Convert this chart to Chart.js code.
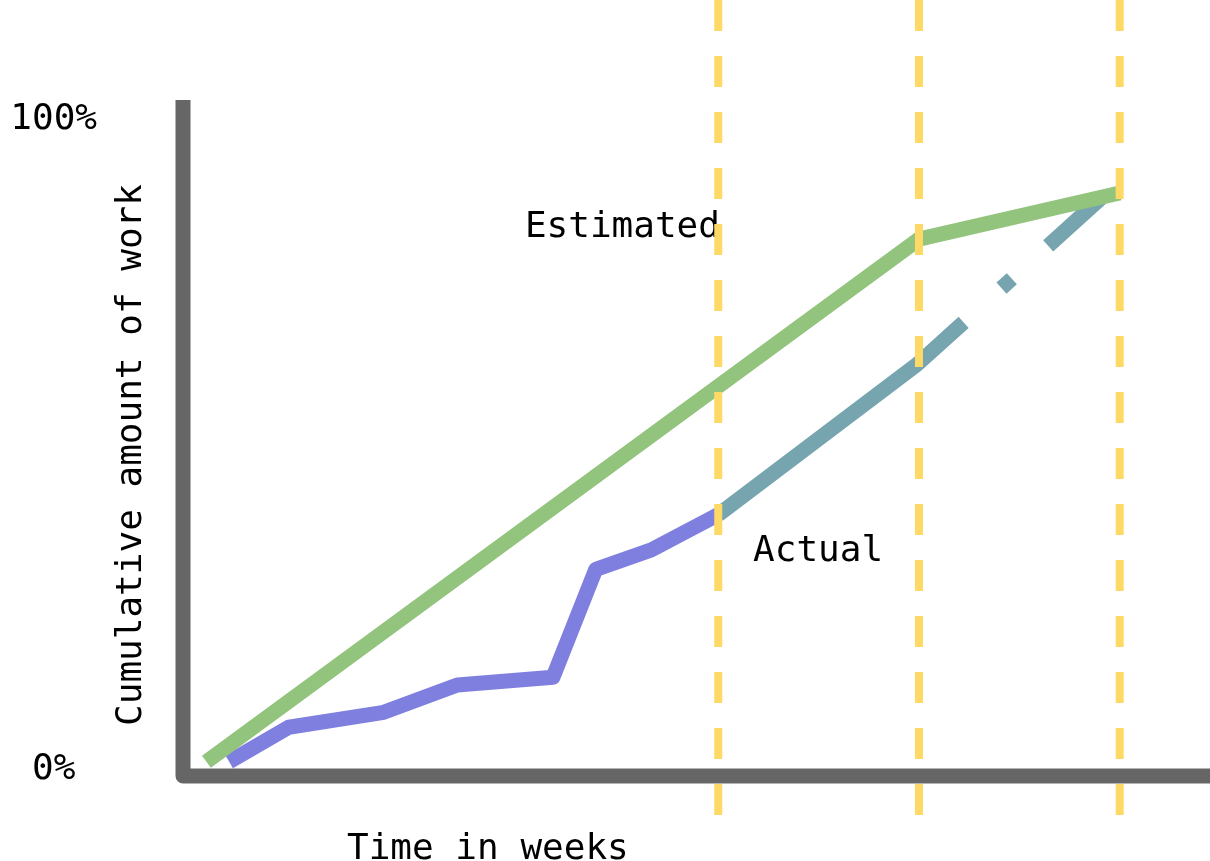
<!DOCTYPE html>
<html>
<head>
<meta charset="utf-8">
<title>Cumulative work</title>
<script src="https://cdn.jsdelivr.net/npm/chart.js@4/dist/chart.umd.min.js"></script>
<style>
  html, body { margin: 0; padding: 0; background: #fff; }
  #wrap { width: 1210px; height: 861px; position: relative; }
</style>
</head>
<body>
<div id="wrap"><canvas id="workChart"></canvas></div>
<script>
// x = time in weeks, y = cumulative amount of work (%)
const estimatedWeeks = [0.35, 11.0, 14.0];
const estimatedWork  = [1.2, 81.6, 88.7];

const actualWeeks = [0.69, 1.58, 3.0, 4.1, 5.53, 6.17, 7.0, 8.0];
const actualWork  = [1.2, 6.5, 8.8, 13.0, 14.2, 30.8, 33.8, 39.2];

// projection of the actual line after the last check-in
const forecastWeeks = [8.0, 10.97, 13.72];
const forecastWork  = [39.2, 62.3, 87.9];

// check-in weeks (dashed yellow markers)
const milestoneWeeks = [8, 11, 14];

const workTicks = [0, 100];

const FONT = 'DejaVu Sans Mono';
const TEXT_SIZE = 36;
const LINE_W = 15;

const toPoints = (xs, ys) => xs.map((x, i) => ({x: x, y: ys[i]}));

// axis lines + free text, drawn under the datasets
const sketchDecor = {
  id: 'sketchDecor',
  beforeDatasetsDraw(chart) {
    const {ctx, chartArea: area, scales} = chart;
    const xs = scales.x, ys = scales.y;

    ctx.save();
    ctx.strokeStyle = '#666666';
    ctx.lineWidth = 15;
    ctx.lineJoin = 'round';
    ctx.lineCap = 'butt';
    ctx.beginPath();
    ctx.moveTo(area.left, area.top);
    ctx.lineTo(area.left, area.bottom);
    ctx.lineTo(area.right, area.bottom);
    ctx.stroke();

    ctx.fillStyle = '#000';
    ctx.font = TEXT_SIZE + 'px "' + FONT + '"';
    ctx.textAlign = 'left';
    ctx.textBaseline = 'alphabetic';

    // series names, anchored in data units
    ctx.fillText('Estimated', xs.getPixelForValue(5.11), ys.getPixelForValue(81.9));
    ctx.fillText('Actual', xs.getPixelForValue(8.52), ys.getPixelForValue(32.1));

    // axis titles
    ctx.fillText('Time in weeks', 347, 859);
    ctx.translate(141, 455);
    ctx.rotate(-Math.PI / 2);
    ctx.textAlign = 'center';
    ctx.fillText('Cumulative amount of work', 0, 0);
    ctx.restore();
  }
};

const milestoneSets = milestoneWeeks.map(w => ({
  label: 'week ' + w,
  data: [{x: w, y: 118.4}, {x: w, y: -7.3}],
  borderColor: '#ffd966',
  borderWidth: 8,
  borderDash: [31, 25],
  clip: false
}));

new Chart(document.getElementById('workChart'), {
  type: 'line',
  data: {
    datasets: [
      ...milestoneSets,
      {
        label: 'Estimated',
        data: toPoints(estimatedWeeks, estimatedWork),
        borderColor: '#93c47d',
        borderWidth: LINE_W
      },
      {
        label: 'Forecast',
        data: toPoints(forecastWeeks, forecastWork),
        borderColor: '#76a5af',
        borderWidth: LINE_W,
        borderDash: [312, 51, 14, 49]
      },
      {
        label: 'Actual',
        data: toPoints(actualWeeks, actualWork),
        borderColor: '#7f7fe0',
        borderWidth: LINE_W
      }
    ]
  },
  options: {
    responsive: true,
    maintainAspectRatio: false,
    animation: false,
    layout: { padding: { top: 100, bottom: 85, left: 0, right: 0 } },
    elements: {
      point: { radius: 0, hoverRadius: 0 },
      line: { tension: 0, fill: false, borderJoinStyle: 'round', borderCapStyle: 'butt' }
    },
    plugins: {
      legend: { display: false },
      tooltip: { enabled: false }
    },
    scales: {
      x: {
        type: 'linear',
        min: 0,
        max: 15.35,
        display: false
      },
      y: {
        type: 'linear',
        min: -1,
        max: 103,
        grid: { display: false, drawTicks: false },
        border: { display: false },
        afterBuildTicks: scale => {
          scale.ticks = workTicks.map(v => ({value: v}));
        },
        afterFit: scale => {
          // fixed gutter; the big tick padding is only meant horizontally
          scale.width = 183;
          scale.paddingTop = 0;
          scale.paddingBottom = 0;
        },
        ticks: {
          padding: 86,
          crossAlign: 'center',
          color: '#000',
          font: { family: FONT, size: TEXT_SIZE },
          callback: v => v + '%'
        }
      }
    }
  },
  plugins: [sketchDecor]
});
</script>
</body>
</html>
